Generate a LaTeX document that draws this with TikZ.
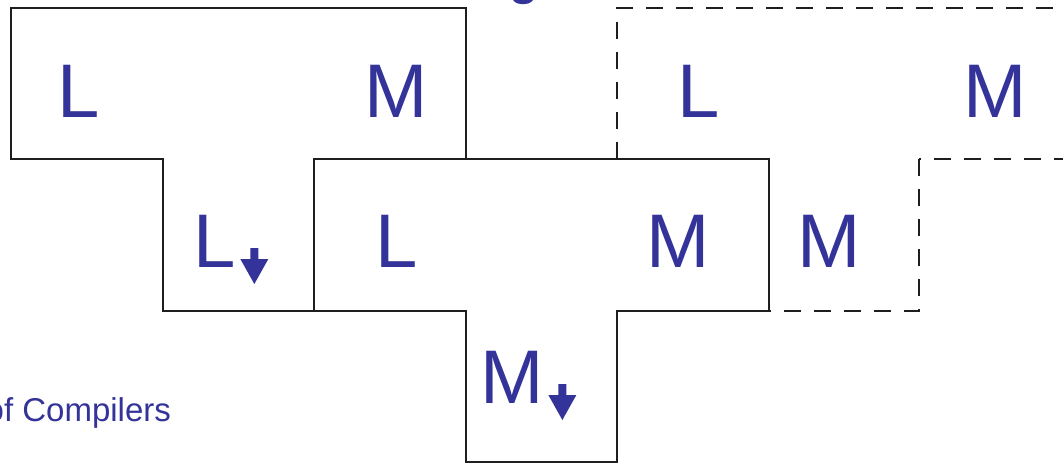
\documentclass[tikz,border=0pt]{standalone}
\usepackage{fontspec}
\setmainfont{Liberation Sans}
\usetikzlibrary{calc}
\definecolor{txtblue}{RGB}{51,51,153}
\definecolor{linegray}{RGB}{30,30,30}
\begin{document}
\begin{tikzpicture}[x=1pt,y=-1pt,
  lbl/.style={text=txtblue,font=\fontsize{76}{80}\selectfont,inner sep=0pt,anchor=base},
  tline/.style={draw=linegray,line width=2.8pt,line join=miter},
  dline/.style={draw=linegray,line width=2.8pt,dash pattern=on 17pt off 13pt},
  darrow/.style={fill=txtblue}]
\useasboundingbox (0,0) rectangle (1063,466);
% first T (solid)
\draw[tline] (11,8) -- (466,8) -- (466,159) -- (314,159) -- (314,311) -- (163,311) -- (163,159) -- (11,159) -- cycle;
% second T (solid)
\draw[tline] (314,159) -- (769,159) -- (769,311) -- (617,311) -- (617,462) -- (466,462) -- (466,311) -- (314,311) -- cycle;
% third T (dashed)
\draw[dline] (617,159) -- (617,8) -- (1080,8);
\draw[dline,dash phase=15pt] (919,159) -- (1080,159);
\draw[dline] (919,159) -- (919,311) -- (769,311);
% labels
\node[lbl] (aL) at (79,117) {L};
\node[lbl] (aM) at (396.5,117) {M};
\node[lbl] (aS) at (215,267) {L};
\node[lbl] (bL) at (397,267) {L};
\node[lbl] (bM) at (678.5,267) {M};
\node[lbl] (bS) at (512.5,403) {M};
\node[lbl] (cS) at (829.5,267) {M};
\node[lbl] (dL) at (698.6,117) {L};
\node[lbl] (dM) at (995.5,117) {M};
% down arrows
\fill[darrow,shift={(aS.base east)}] (14,-19) -- (22,-19) -- (22,-8) -- (32,-8) -- (18,17) -- (4,-8) -- (14,-8) -- cycle;
\fill[darrow,shift={(bS.base east)}] (14,-19) -- (22,-19) -- (22,-8) -- (32,-8) -- (18,17) -- (4,-8) -- (14,-8) -- cycle;
% fragments of slide text
\node[anchor=base west,text=txtblue,font=\fontsize{33}{36}\selectfont,inner sep=0pt] (cap) at (-14.5,421.5) {of Compilers};
\node[anchor=base,text=txtblue,font=\fontsize{48}{52}\selectfont\bfseries,inner sep=0pt] (ttl) at (524,-5.2) {g};
\end{tikzpicture}
\end{document}
